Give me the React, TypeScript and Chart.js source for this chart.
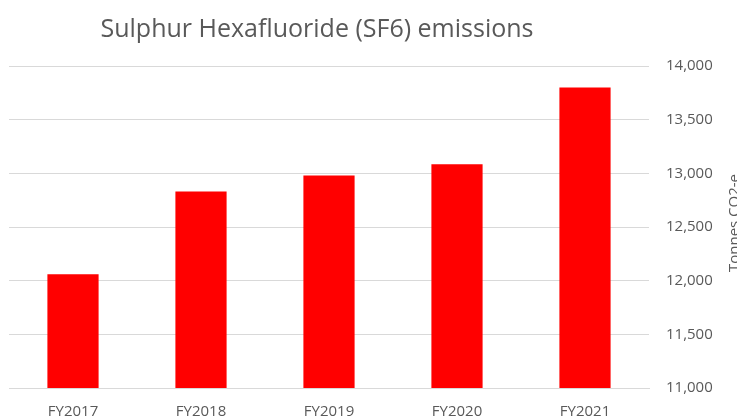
import React, { useEffect, useRef } from "react";
import { Chart, registerables } from "chart.js";

Chart.register(...registerables);

const categories = ["FY2017", "FY2018", "FY2019", "FY2020", "FY2021"];
const emissions = [12060, 12830, 12980, 13085, 13800];
const titleText = "Sulphur Hexafluoride (SF6) emissions";
const axisTitle = "Tonnes CO2-e";
const yMin = 11000;
const yMax = 14000;
const yStep = 500;

const FONT = "'Open Sans', 'DejaVu Sans', sans-serif";
const GRAY = "#595959";

const textPlugin = {
  id: "customText",
  afterDraw(chart: any) {
    const ctx = chart.ctx;
    const area = chart.chartArea;
    ctx.save();
    ctx.fillStyle = GRAY;
    ctx.font = `25px ${FONT}`;
    ctx.textAlign = "center";
    ctx.textBaseline = "middle";
    ctx.fillText(titleText, 317, 30);
    ctx.translate(735, (area.top + area.bottom) / 2 - 4);
    ctx.rotate(-Math.PI / 2);
    ctx.font = `15px ${FONT}`;
    ctx.textAlign = "center";
    ctx.textBaseline = "middle";
    ctx.fillText(axisTitle, 0, 0);
    ctx.restore();
  },
};

export default function App() {
  const ref = useRef<HTMLCanvasElement | null>(null);
  useEffect(() => {
    if (!ref.current) return;
    const chart = new Chart(ref.current, {
      type: "bar",
      data: {
        labels: categories,
        datasets: [
          {
            data: emissions,
            backgroundColor: "#ff0000",
            borderWidth: 0,
            categoryPercentage: 1,
            barPercentage: 0.4,
          },
        ],
      },
      options: {
        animation: false,
        responsive: false,
        maintainAspectRatio: false,
        layout: { padding: { top: 66, left: 9, right: 0, bottom: 0 } },
        plugins: {
          legend: { display: false },
          title: { display: false },
          tooltip: { enabled: false },
        },
        scales: {
          x: {
            grid: { display: false, drawTicks: false },
            border: { display: true, color: "#d9d9d9", width: 1 },
            ticks: {
              color: GRAY,
              font: { family: FONT, size: 15 },
              padding: 15,
              maxRotation: 0,
            },
            afterFit(scale: any) {
              scale.height = 32;
            },
          },
          y: {
            position: "right",
            min: yMin,
            max: yMax,
            grid: { color: "#d9d9d9", drawTicks: false, lineWidth: 1 },
            border: { display: false },
            ticks: {
              stepSize: yStep,
              color: GRAY,
              font: { family: FONT, size: 15 },
              padding: 17,
              callback: (v: any) => Number(v).toLocaleString("en-US"),
            },
            afterFit(scale: any) {
              scale.width = 88;
            },
          },
        },
      },
      plugins: [textPlugin],
    });
    return () => chart.destroy();
  }, []);
  return (
    <div style={{ position: "fixed", left: 0, top: 0, width: 737, height: 420, background: "#fff" }}>
      <canvas ref={ref} width={737} height={420} style={{ display: "block" }} />
    </div>
  );
}
